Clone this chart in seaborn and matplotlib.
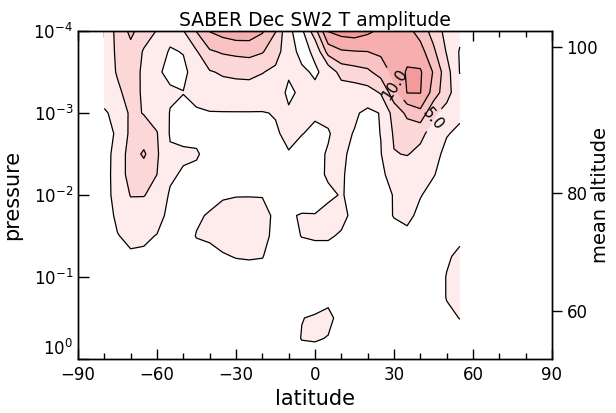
import numpy as np
import matplotlib
matplotlib.use("Agg")
import matplotlib.pyplot as plt
import seaborn as sns

# grid of the SABER field: latitude columns and log10(pressure) levels
lats = [-80, -75, -70, -65, -60, -55, -50, -45, -40, -35, -30, -25, -20, -15,
        -10, -5, 0, 5, 10, 15, 20, 25, 30, 35, 40, 45, 50, 55]
log_p = [-4.0, -3.75, -3.5, -3.25, -3.0, -2.75, -2.5, -2.25, -2.0,
         -1.75, -1.5, -1.25, -1.0, -0.75, -0.5, -0.25, 0.0]

# amplitude (K), one profile (top -> bottom) per latitude
amplitude = [
    [4.0, 4.0, 3.8, 3.2, 2.3, 2.0, 1.8, 1.6, 1.5, 1.3, 1.0, 0.8, 0.6, 0.5, 0.5, 0.5, 0.5],
    [5.4, 5.3, 5.2, 4.6, 3.0, 2.7, 3.2, 3.5, 3.5, 3.0, 2.4, 1.8, 1.3, 1.0, 0.8, 0.7, 0.6],
    [8.2, 6.5, 6.0, 5.8, 5.5, 5.6, 6.2, 6.0, 5.1, 4.0, 3.0, 2.2, 1.6, 1.2, 0.9, 0.7, 0.6],
    [6.0, 4.8, 4.6, 4.7, 4.9, 6.0, 7.9, 6.0, 5.1, 3.8, 2.9, 2.1, 1.5, 1.1, 0.9, 0.7, 0.6],
    [4.9, 3.5, 2.8, 3.5, 4.2, 5.1, 5.3, 5.0, 4.2, 3.4, 2.4, 1.8, 1.3, 1.0, 0.8, 0.7, 0.6],
    [3.2, 2.3, 2.0, 2.8, 2.4, 2.3, 2.8, 2.9, 2.2, 1.8, 1.5, 1.2, 1.0, 0.8, 0.7, 0.6, 0.5],
    [4.9, 2.6, 2.0, 2.55, 2.0, 1.8, 2.9, 2.2, 1.6, 1.6, 1.5, 1.2, 0.9, 0.8, 0.7, 0.6, 0.5],
    [7.6, 4.8, 3.5, 3.0, 2.3, 1.7, 2.8, 1.8, 1.4, 2.2, 2.6, 1.6, 1.0, 0.8, 0.7, 0.6, 0.5],
    [10.1, 7.2, 4.8, 3.6, 2.4, 1.8, 1.5, 1.4, 1.8, 2.7, 2.8, 1.9, 1.2, 0.9, 0.7, 0.6, 0.5],
    [11.0, 7.8, 5.3, 3.9, 2.4, 1.8, 1.5, 1.5, 2.3, 3.1, 3.3, 2.3, 1.4, 1.0, 0.8, 0.6, 0.5],
    [11.6, 8.1, 5.5, 4.0, 2.4, 1.8, 1.5, 1.6, 2.4, 3.4, 3.7, 2.6, 1.5, 1.0, 0.8, 0.7, 0.6],
    [11.5, 8.3, 5.6, 4.0, 2.4, 1.8, 1.5, 1.5, 2.4, 3.5, 3.7, 2.7, 1.5, 1.0, 0.8, 0.7, 0.6],
    [10.3, 7.7, 5.1, 3.8, 2.4, 1.8, 1.4, 1.4, 2.4, 3.2, 3.3, 2.6, 1.4, 1.0, 0.8, 0.6, 0.5],
    [7.6, 6.0, 4.5, 3.3, 2.6, 2.3, 1.8, 1.3, 1.6, 2.1, 1.8, 1.4, 1.0, 0.8, 0.7, 0.6, 0.5],
    [2.7, 3.5, 2.7, 2.2, 2.7, 2.9, 2.4, 1.8, 1.4, 2.35, 2.0, 1.5, 1.1, 0.9, 1.2, 1.5, 1.0],
    [2.0, 1.8, 2.9, 2.8, 2.8, 2.55, 1.9, 1.6, 1.7, 2.6, 2.55, 1.7, 1.2, 1.1, 2.45, 2.6, 1.4],
    [6.5, 2.9, 2.2, 3.0, 2.7, 2.2, 2.2, 2.0, 2.0, 2.55, 2.7, 1.8, 1.3, 1.6, 2.7, 2.7, 1.5],
    [12.6, 8.5, 3.2, 3.3, 2.8, 2.4, 2.6, 2.7, 2.2, 3.0, 2.7, 1.8, 1.3, 2.0, 3.0, 2.4, 1.3],
    [13.5, 9.7, 6.0, 3.5, 3.0, 3.0, 3.0, 2.8, 2.6, 3.0, 2.3, 1.6, 1.2, 1.3, 1.8, 1.5, 1.0],
    [13.8, 9.9, 6.5, 3.6, 2.8, 2.4, 1.8, 1.6, 2.1, 2.0, 1.6, 1.3, 1.0, 0.9, 0.9, 0.8, 0.7],
    [13.0, 10.0, 7.0, 4.0, 2.0, 1.8, 1.6, 1.5, 1.5, 1.4, 1.3, 1.1, 0.9, 0.8, 0.7, 0.6, 0.5],
    [12.0, 10.5, 8.5, 5.2, 2.6, 2.55, 2.4, 2.0, 1.8, 1.7, 1.3, 1.1, 0.9, 0.8, 0.7, 0.6, 0.5],
    [11.3, 11.0, 10.8, 9.0, 6.0, 5.3, 4.9, 3.5, 2.6, 2.6, 1.8, 1.2, 1.0, 0.8, 0.7, 0.6, 0.5],
    [10.8, 11.6, 12.8, 12.6, 8.0, 6.2, 5.1, 3.8, 3.3, 3.0, 2.0, 1.4, 1.0, 0.8, 0.7, 0.6, 0.5],
    [9.0, 11.0, 12.8, 12.6, 9.3, 5.5, 4.5, 3.4, 2.6, 2.0, 1.6, 1.2, 1.0, 0.8, 0.7, 0.6, 0.5],
    [6.5, 8.0, 9.8, 9.0, 5.4, 4.2, 3.0, 2.6, 1.9, 1.6, 1.4, 1.2, 1.2, 1.1, 1.0, 0.8, 0.6],
    [4.2, 4.8, 6.0, 5.8, 4.2, 2.6, 2.1, 1.8, 1.5, 1.4, 2.0, 2.2, 2.6, 2.6, 2.0, 1.4, 1.0],
    [3.2, 2.3, 2.4, 3.5, 2.8, 2.2, 1.8, 1.5, 1.3, 1.3, 2.0, 3.0, 3.3, 3.1, 2.55, 1.8, 1.2],
]

contour_levels = [2.5, 5.0, 7.5, 10.0, 12.5]
labelled_levels = [5.0, 10.0]
plain_levels = [2.5, 7.5, 12.5]

# right axis: mean altitude (km) and the log pressure it sits at
alt_km = [100, 80, 60]
alt_log_p = [-3.81, -2.02, -0.58]

sns.set_style("ticks")
plt.rcParams['font.family'] = ['DejaVu Sans']
plt.rcParams['text.color'] = 'black'
plt.rcParams['axes.labelcolor'] = 'black'
plt.rcParams['xtick.color'] = 'black'
plt.rcParams['ytick.color'] = 'black'

fig = plt.figure(figsize=(6.16, 4.13), dpi=100)
ax = fig.add_axes([0.1266, 0.1308, 0.7695, 0.794])

Z = np.array(amplitude).T
fills = sns.blend_palette(['#fdeceb', '#f49a9a'], len(contour_levels))
ax.contourf(lats, log_p, Z, levels=contour_levels + [50.0], colors=fills)
ax.contour(lats, log_p, Z, levels=plain_levels, colors='black', linewidths=0.9)
cs = ax.contour(lats, log_p, Z, levels=labelled_levels, colors='black', linewidths=0.9)
ax.clabel(cs, manual=[(45, -2.92), (30.4, -3.35)],
          fmt='%.1f', fontsize=11, inline=True, inline_spacing=3)

ax.set_xlim(-90, 90)
ax.set_ylim(0, -4)
ax.set_xticks(range(-90, 91, 30))
ax.set_xticks(range(-90, 91, 10), minor=True)
ax.set_yticks([-4, -3, -2, -1, 0])
ax.set_yticklabels([r'$10^{-4}$', r'$10^{-3}$', r'$10^{-2}$', r'$10^{-1}$', r'$10^{0}$'])
ax.get_yticklabels()[-1].set_va('bottom')
ax.tick_params(axis='x', which='major', direction='in', length=7, width=1,
               top=True, bottom=True, labelsize=12, pad=5)
ax.tick_params(axis='x', which='minor', direction='in', length=4, width=1,
               top=True, bottom=True)
ax.tick_params(axis='y', which='major', direction='in', length=8, width=1,
               left=True, right=False, labelsize=12)
ax.set_xlabel('latitude', fontsize=15)
ax.set_ylabel('pressure', fontsize=15, labelpad=8)
ax.set_title('SABER Dec SW2 T amplitude', fontsize=13.5, pad=4)

ax2 = ax.twinx()
ax2.set_ylim(0, -4)
ax2.set_yticks(alt_log_p)
ax2.set_yticklabels([str(a) for a in alt_km])
ax2.tick_params(axis='y', direction='out', length=7, width=1, labelsize=12)
fig.text(0.975, 0.527, 'mean altitude', rotation=90, ha='center', va='center',
         fontsize=14)

for a in (ax, ax2):
    for s in a.spines.values():
        s.set_color('black')
        s.set_linewidth(1.0)

fig.savefig('out.png', dpi=100)
